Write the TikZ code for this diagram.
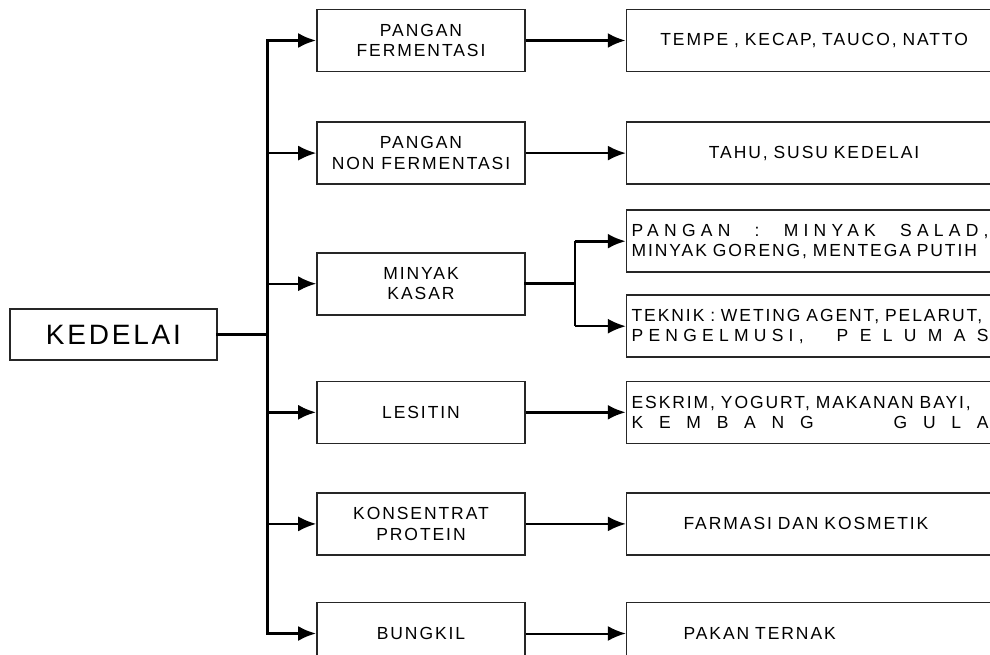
\documentclass[tikz,border=0pt]{standalone}
\usepackage{fontspec}
\setmainfont{Liberation Sans}[LetterSpace=11]
\usetikzlibrary{arrows.meta,positioning,calc}

% letter spaced words and stretched lines
\newcommand{\lsp}[2]{{\addfontfeature{LetterSpace=#1}#2}}
\newcommand{\spreadline}[1]{\makebox[357pt][s]{#1}}

\begin{document}
\begin{tikzpicture}[
    x=1pt, y=-1pt,
    node distance=49pt and 100pt,
    srcbox/.style={
        rectangle,
        draw=black!85,
        line width=1.6pt,
        minimum width=207pt,
        minimum height=51pt,
        inner sep=0pt,
        font=\fontsize{28}{30}\selectfont\addfontfeature{LetterSpace=10}
    },
    midbox/.style={
        rectangle,
        draw=black!85,
        line width=1.6pt,
        align=center,
        minimum width=208pt,
        minimum height=62pt,
        inner sep=0pt,
        font=\fontsize{17.5}{20.5}\selectfont
    },
    prodbox/.style={
        rectangle,
        draw=black!85,
        line width=1.6pt,
        align=center,
        text width=375pt,
        minimum height=62pt,
        inner xsep=0pt,
        inner ysep=0pt,
        font=\fontsize{17.5}{20}\selectfont
    },
    prodleft/.style={
        prodbox,
        align=left,
        text width=261pt,
        inner xsep=57pt
    },
    prodjust/.style={
        prodbox,
        align=left,
        text width=365pt,
        inner xsep=5pt
    },
    line/.style={
        line width=3pt,
        line cap=rect
    },
    arrow/.style={
        -{Latex[length=18pt,width=15pt]},
        line width=3pt
    },
    thinarrow/.style={
        -{Latex[length=18pt,width=15pt]},
        line width=2pt
    }
]

\useasboundingbox (0,0) rectangle (990,655);
\clip (0,0) rectangle (990,655);

% =========================
% Source
% =========================

\node[srcbox] (kedelai) at (113.5,334.5) {KEDELAI};

\coordinate (bus) at (267.5,0);

% =========================
% Processed products
% =========================

\node[midbox] (fermentasi) at (421,40.5)
{PANGAN\\FERMENTASI};

\node[midbox, below=of fermentasi] (nonfermentasi)
{PANGAN\\NON FERMENTASI};

\node[midbox, below=67pt of nonfermentasi] (minyak)
{MINYAK\\KASAR};

\node[midbox, below=65pt of minyak] (lesitin)
{LESITIN};

\node[midbox, below=48pt of lesitin] (protein)
{KONSENTRAT\\PROTEIN};

\node[midbox, below=46pt of protein] (bungkil)
{BUNGKIL};

% =========================
% Final uses
% =========================

\node[prodbox, right=of fermentasi] (tempe)
{TEMPE , KECAP, TAUCO, NATTO};

\node[prodbox, right=of nonfermentasi] (tahu)
{TAHU, SUSU KEDELAI};

\node[prodjust, anchor=west] (pangan) at ($(minyak.east)+(100,-42.5)$)
{\spreadline{\lsp{30}{PANGAN}\hfill:\hfill\lsp{30}{MINYAK}\hfill\lsp{30}{SALAD,}}\\
MINYAK GORENG, MENTEGA PUTIH};

\node[prodjust, anchor=west] (teknik) at ($(minyak.east)+(100,42.5)$)
{TEKNIK : WETING AGENT, PELARUT,\\
\spreadline{\lsp{30}{PENGELMUSI,}\hfill\lsp{65}{PELUMAS}}};

\node[prodjust, right=of lesitin] (eskrim)
{ESKRIM, YOGURT, MAKANAN BAYI,\\
\spreadline{\lsp{90}{KEMBANG}\hfill\lsp{90}{GULA}}};

\node[prodleft, right=of protein] (farmasi)
{FARMASI DAN KOSMETIK};

\node[prodleft, right=of bungkil] (pakan)
{PAKAN TERNAK};

% =========================
% Main bus
% =========================

\draw[line] (kedelai.east) -- (kedelai.east -| bus);
\draw[line] (bus |- fermentasi.west) -- (bus |- bungkil.west);

\foreach \n/\s in {fermentasi/arrow, nonfermentasi/thinarrow,
    minyak/thinarrow, lesitin/arrow, protein/thinarrow, bungkil/arrow}
    \draw[\s] (bus |- \n.west) -- (\n.west);

% =========================
% Product connections
% =========================

\foreach \a/\b/\s in {fermentasi/tempe/arrow, nonfermentasi/tahu/thinarrow,
    lesitin/eskrim/arrow, protein/farmasi/thinarrow, bungkil/pakan/thinarrow}
    \draw[\s] (\a.east) -- (\a.east -| \b.west);

% split of the crude oil
\coordinate (split) at ($(minyak.east)+(49,0)$);

\draw[line] (minyak.east) -- (split);
\draw[line width=2pt] (split |- pangan.west) -- (split |- teknik.west);
\draw[arrow] (split |- pangan.west) -- (pangan.west);
\draw[thinarrow] (split |- teknik.west) -- (teknik.west);

\end{tikzpicture}
\end{document}
